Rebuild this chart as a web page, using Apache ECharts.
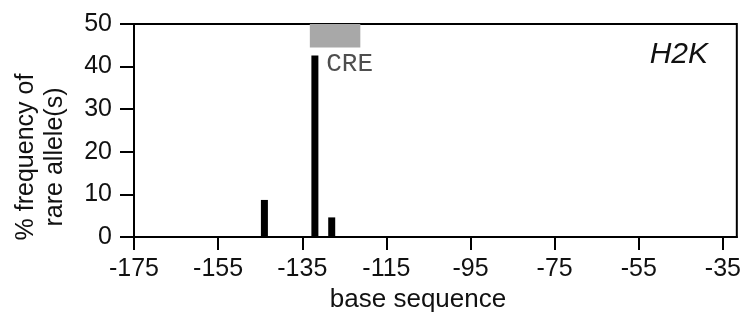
<!DOCTYPE html>
<html>
<head>
<meta charset="utf-8">
<script src="https://cdn.jsdelivr.net/npm/echarts@6/dist/echarts.min.js"></script>
<style>
  html, body { margin: 0; padding: 0; background: #fff; }
  #chart { width: 744px; height: 322px; }
</style>
</head>
<body>
<div id="chart"></div>
<script>
// base positions and % frequency of the rare allele
const positions = [-144, -132, -128]
const frequencies = [8.7, 42.6, 4.6]

// x ticks, y ticks
const xTicks = [-175, -155, -135, -115, -95, -75, -55, -35]
const yTicks = [0, 10, 20, 30, 40, 50]

// CRE element box: [x from, x to, y from, y to]
const creBox = [-133.2, -121.2, 44.5, 50]
const creLabel = { text: 'CRE', x: -129.3, y: 40.6 }

const FONT = '"Liberation Sans", Arial, Helvetica, sans-serif'

const chart = echarts.init(document.getElementById('chart'))

chart.setOption({
  animation: false,
  backgroundColor: '#fff',
  grid: {
    left: 134, right: 7, top: 24, bottom: 85,
    show: true, borderColor: '#000', borderWidth: 2
  },
  xAxis: {
    type: 'value',
    min: -175,
    max: -31.7,
    axisLine: { lineStyle: { color: '#000', width: 2 } },
    axisTick: { show: true, inside: false, length: 13, lineStyle: { color: '#000', width: 2 }, customValues: xTicks },
    axisLabel: { color: '#111', fontSize: 25, fontFamily: FONT, margin: 20, customValues: xTicks },
    splitLine: { show: false }
  },
  yAxis: {
    type: 'value',
    min: 0,
    max: 50,
    interval: 10,
    axisLine: { show: true, lineStyle: { color: '#000', width: 2 } },
    axisTick: { show: true, inside: false, length: 14, lineStyle: { color: '#000', width: 2 }, customValues: yTicks },
    axisLabel: { color: '#111', fontSize: 25, fontFamily: FONT, margin: 22, customValues: yTicks },
    splitLine: { show: false }
  },
  series: [
    {
      type: 'bar',
      barWidth: 7,
      itemStyle: { color: '#000' },
      data: positions.map((p, i) => [p, frequencies[i]]),
      markArea: {
        silent: true,
        itemStyle: { color: '#a8a8a8', opacity: 1 },
        data: [[
          { coord: [creBox[0], creBox[3]] },
          { coord: [creBox[1], creBox[2]] }
        ]]
      }
    },
    {
      type: 'scatter',
      symbolSize: 0,
      data: [[creLabel.x, creLabel.y]],
      label: {
        show: true,
        formatter: creLabel.text,
        position: 'right',
        distance: 0,
        color: '#222',
        fontSize: 26,
        fontFamily: '"Liberation Mono", "Courier New", monospace'
      }
    }
  ],
  graphic: [
    {
      type: 'text',
      right: 36,
      top: 40,
      style: { text: 'H2K', font: 'italic 30px ' + FONT, fill: '#111' }
    },
    {
      type: 'text',
      x: 41,
      y: 157,
      rotation: Math.PI / 2,
      style: {
        text: '% frequency of\nrare allele(s)',
        font: '25px ' + FONT,
        lineHeight: 29,
        fill: '#111',
        align: 'center',
        verticalAlign: 'middle'
      }
    },
    {
      type: 'text',
      x: 418,
      y: 300,
      style: {
        text: 'base sequence',
        font: '26px ' + FONT,
        fill: '#111',
        align: 'center',
        verticalAlign: 'middle'
      }
    }
  ]
})
</script>
</body>
</html>
